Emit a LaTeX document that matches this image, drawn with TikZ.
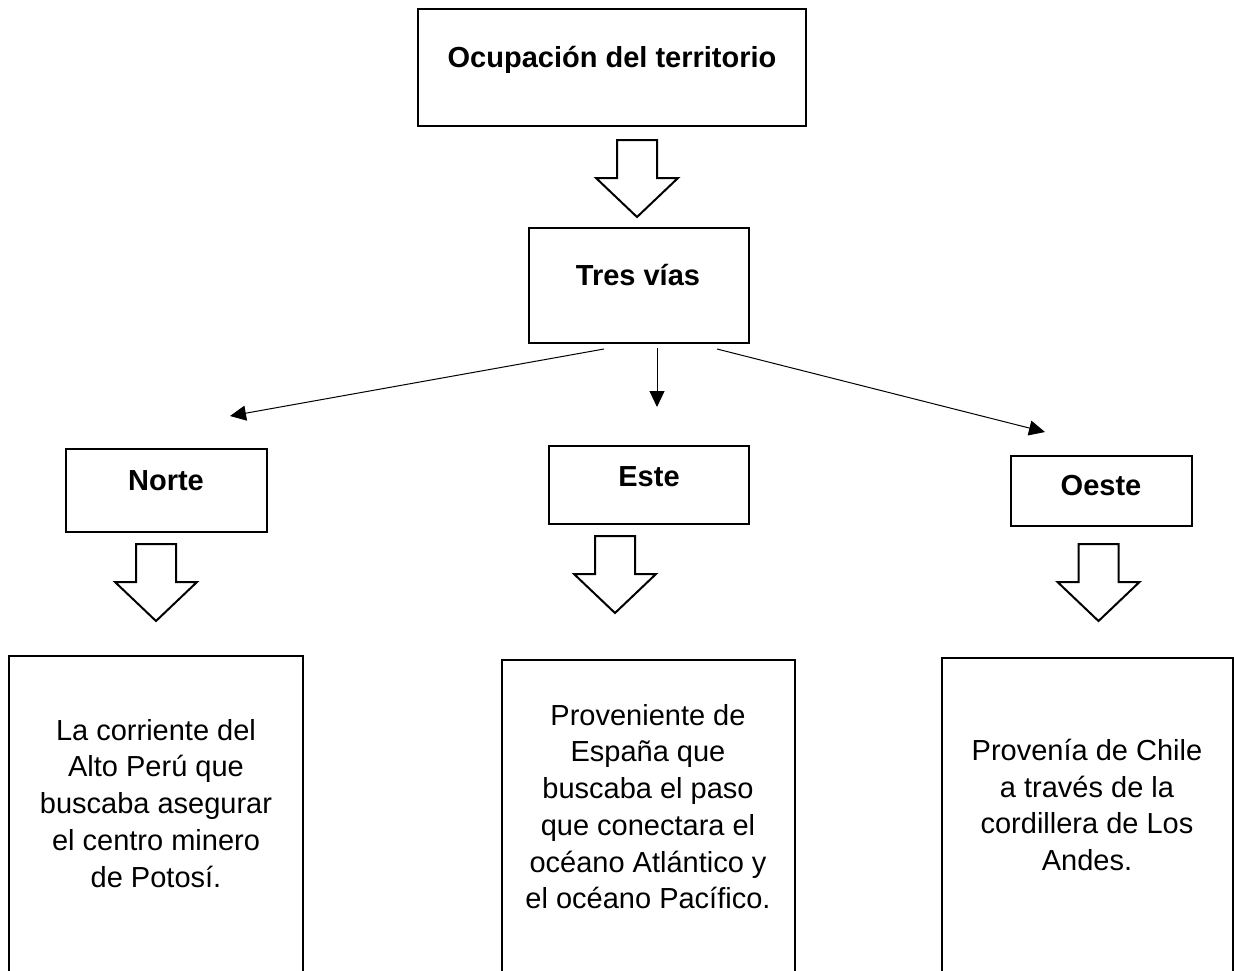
\documentclass[tikz,border=0pt]{standalone}
\usepackage{fontspec}
\setmainfont{Liberation Sans}
\usetikzlibrary{arrows.meta}
\begin{document}
\begin{tikzpicture}[x=1pt,y=-1pt,
  boxstyle/.style={draw=black,line width=2pt,fill=none},
  headlabel/.style={font=\fontsize{29}{34}\selectfont\bfseries,inner sep=0pt,anchor=base},
  bodytext/.style={font=\fontsize{29}{36.7}\selectfont,align=center,inner sep=0pt,anchor=north},
  thinarrow/.style={line width=1pt,-{Triangle[length=16pt,width=15pt]}},
  blockdown/.pic={\draw[line width=2pt,line join=miter,fill=white]
     (-20,0) -- (20,0) -- (20,38) -- (41,38) -- (0,77) -- (-41,38) -- (-20,38) -- cycle;}
]
\useasboundingbox (0,0) rectangle (1234,970);
\clip (0,0) rectangle (1234,970);

% boxes
\draw[boxstyle] (418,9) rectangle (806,126);
\node[minimum width=388pt,minimum height=117pt,inner sep=0pt] (top) at (612,67.5) {};
\draw[boxstyle] (529,228) rectangle (749,343);
\node[minimum width=220pt,minimum height=115pt,inner sep=0pt] (tres) at (639,285.5) {};
\draw[boxstyle] (66,449) rectangle (267,532);
\node[minimum width=201pt,minimum height=83pt,inner sep=0pt] (norte) at (166.5,490.5) {};
\draw[boxstyle] (549,446) rectangle (749,524);
\node[minimum width=200pt,minimum height=78pt,inner sep=0pt] (este) at (649,485) {};
\draw[boxstyle] (1011,456) rectangle (1192,526);
\node[minimum width=181pt,minimum height=70pt,inner sep=0pt] (oeste) at (1101.5,491) {};
\draw[boxstyle] (9,656) rectangle (303,990);
\draw[boxstyle] (502,660) rectangle (795,990);
\draw[boxstyle] (942,658) rectangle (1233,990);

% labels
\node[headlabel] (ttop) at (612,67) {Ocupación del territorio};
\node[headlabel] (ttres) at (638,285) {Tres vías};
\node[headlabel] (tnorte) at (166,490) {Norte};
\node[headlabel] (teste) at (649,486) {Este};
\node[headlabel] (toeste) at (1101,495) {Oeste};

\node[bodytext] (tleft) at (156,719) {La corriente del\\Alto Perú que\\buscaba asegurar\\el centro minero\\de Potosí.};
\node[bodytext] (tmid) at (648,704) {Proveniente de\\España que\\buscaba el paso\\que conectara el\\océano Atlántico y\\el océano Pacífico.};
\node[bodytext] (tright) at (1087,739) {Provenía de Chile\\a través de la\\cordillera de Los\\Andes.};

% block arrows
\pic at (637,140) {blockdown};
\pic at (156,544) {blockdown};
\pic at (615,536) {blockdown};
\pic at (1098.5,544) {blockdown};

% thin arrows
\coordinate (s1) at (604,349);
\coordinate (e1) at (230,416);
\coordinate (s2) at (657,348);
\coordinate (e2) at (657,407);
\coordinate (s3) at (717,349);
\coordinate (e3) at (1045,432);
\draw[thinarrow] (s1) -- (e1);
\draw[thinarrow] (s2) -- (e2);
\draw[thinarrow] (s3) -- (e3);
\end{tikzpicture}
\end{document}
